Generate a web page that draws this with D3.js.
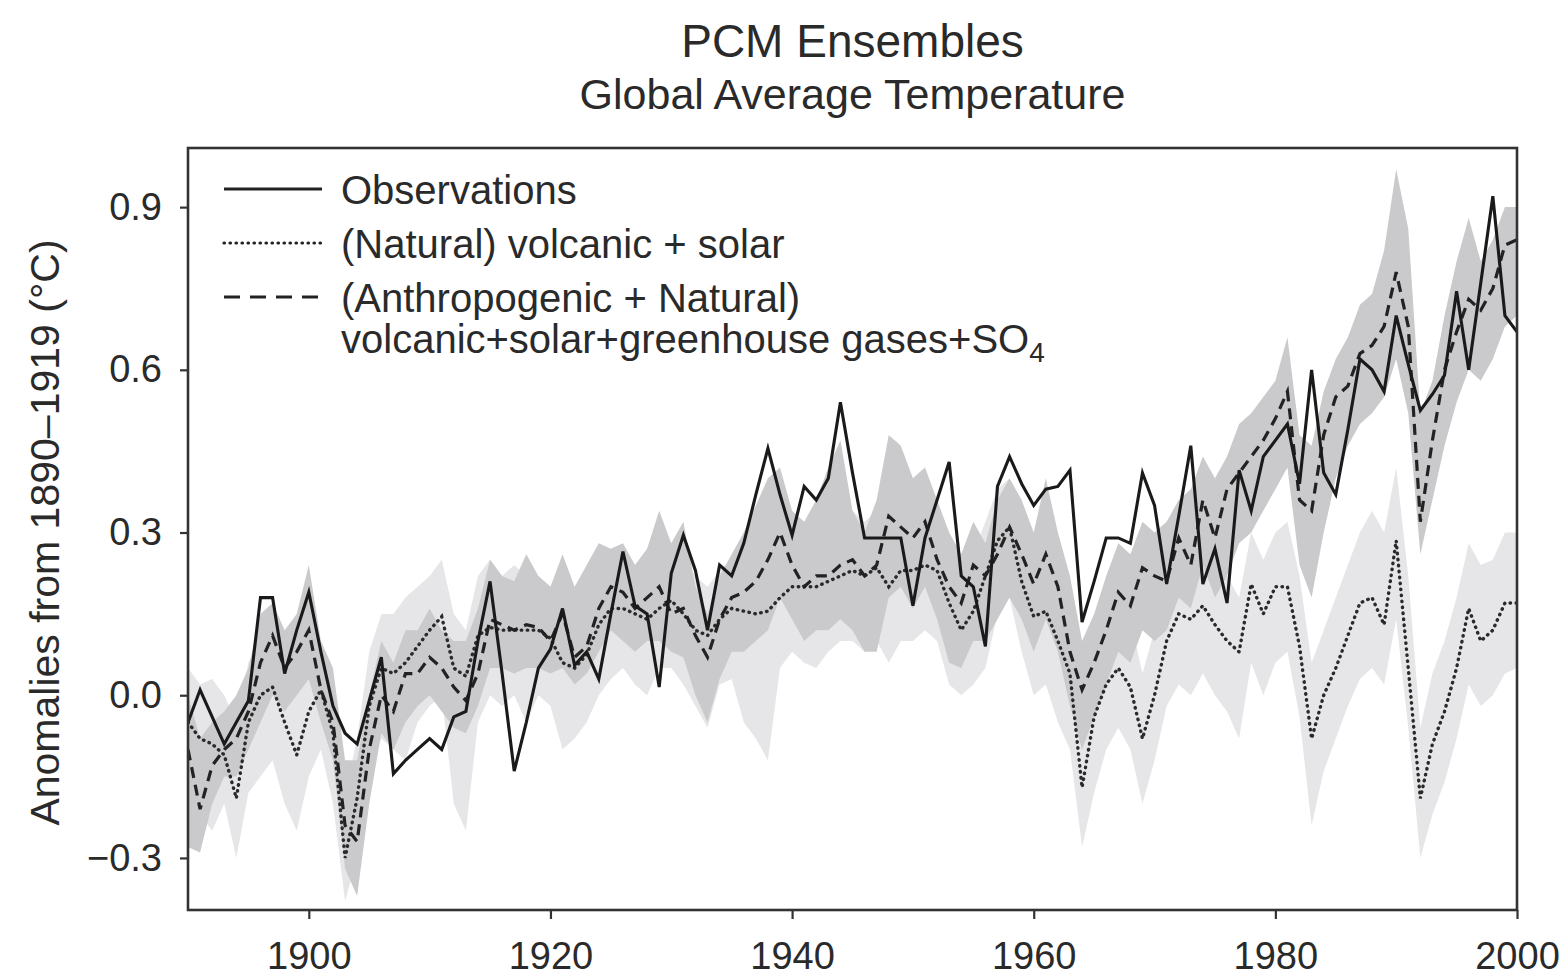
<!DOCTYPE html>
<html>
<head>
<meta charset="utf-8">
<title>PCM Ensembles</title>
<script src="https://cdn.jsdelivr.net/npm/d3@7"></script>
<style>
body { margin: 0; background: #fff; }
text { font-family: "Liberation Sans", Arial, sans-serif; fill: #2a2a2a; }
.axis line { stroke: #333; stroke-width: 2.2; }
.axis path { display: none; }
.axis text { font-size: 38px; }
</style>
</head>
<body>
<svg id="chart" width="1562" height="979"></svg>
<script>

// yearly values, 1890 to 2000
var firstYear = 1890;

var observations = [
  -0.05, 0.01, -0.04, -0.09, -0.05, -0.01, 0.18, 0.18, 0.04, 0.12,
  0.19, 0.08, -0.02, -0.07, -0.09, -0.01, 0.07, -0.145, -0.12, -0.10,
  -0.08, -0.10, -0.04, -0.03, 0.10, 0.21, 0.04, -0.14, -0.05, 0.05,
  0.085, 0.16, 0.055, 0.08, 0.03, 0.15, 0.265, 0.165, 0.15, 0.015,
  0.225, 0.295, 0.23, 0.12, 0.24, 0.22, 0.28, 0.37, 0.455, 0.37,
  0.295, 0.385, 0.36, 0.40, 0.54, 0.41, 0.29, 0.29, 0.29, 0.29,
  0.165, 0.29, 0.36, 0.43, 0.22, 0.20, 0.09, 0.385, 0.44, 0.39,
  0.35, 0.38, 0.385, 0.415, 0.135, 0.21, 0.29, 0.29, 0.28, 0.41,
  0.35, 0.205, 0.33, 0.46, 0.205, 0.27, 0.17, 0.415, 0.34, 0.44,
  0.47, 0.50, 0.39, 0.60, 0.41, 0.37, 0.49, 0.62, 0.60, 0.56,
  0.70, 0.61, 0.525, 0.555, 0.59, 0.745, 0.60, 0.76, 0.92, 0.70,
  0.67
];

// (Natural) volcanic + solar, ensemble mean and range
var natural = [
  -0.05, -0.08, -0.09, -0.11, -0.19, -0.05, 0.00, 0.015, -0.05, -0.11,
  -0.03, 0.01, -0.07, -0.30, -0.19, -0.02, 0.05, 0.04, 0.06, 0.09,
  0.12, 0.145, 0.05, 0.035, 0.11, 0.125, 0.12, 0.12, 0.12, 0.12,
  0.105, 0.06, 0.05, 0.075, 0.13, 0.16, 0.16, 0.15, 0.14, 0.16,
  0.175, 0.15, 0.12, 0.11, 0.14, 0.16, 0.155, 0.15, 0.155, 0.18,
  0.20, 0.20, 0.20, 0.21, 0.22, 0.23, 0.22, 0.235, 0.20, 0.23,
  0.23, 0.24, 0.23, 0.17, 0.12, 0.155, 0.22, 0.285, 0.31, 0.21,
  0.145, 0.155, 0.10, 0.04, -0.17, -0.04, 0.02, 0.05, 0.015, -0.08,
  0.00, 0.10, 0.15, 0.14, 0.165, 0.13, 0.10, 0.08, 0.205, 0.15,
  0.20, 0.20, 0.09, -0.08, 0.00, 0.05, 0.11, 0.17, 0.18, 0.13,
  0.285, 0.05, -0.19, -0.09, -0.03, 0.05, 0.16, 0.10, 0.12, 0.17,
  0.17
];
var naturalLow = [
  -0.20, -0.22, -0.25, -0.20, -0.30, -0.18, -0.15, -0.12, -0.20, -0.25,
  -0.15, -0.10, -0.20, -0.38, -0.30, -0.15, -0.08, -0.10, -0.12, -0.05,
  -0.02, 0.00, -0.20, -0.25, -0.05, 0.00, -0.02, 0.00, -0.05, 0.00,
  -0.02, -0.10, -0.08, -0.05, 0.00, 0.03, 0.05, 0.02, 0.00, 0.05,
  0.05, 0.02, -0.02, -0.06, 0.02, 0.03, -0.05, -0.08, -0.12, 0.05,
  0.08, 0.06, 0.05, 0.08, 0.10, 0.10, 0.08, 0.10, 0.06, 0.10,
  0.10, 0.12, 0.10, 0.02, 0.00, 0.02, 0.05, 0.15, 0.18, 0.08,
  0.00, 0.02, -0.05, -0.10, -0.28, -0.18, -0.10, -0.06, -0.10, -0.20,
  -0.12, -0.02, 0.02, 0.00, 0.04, 0.00, -0.03, -0.08, 0.06, 0.00,
  0.06, 0.08, -0.04, -0.24, -0.14, -0.08, -0.02, 0.03, 0.05, 0.02,
  0.14, -0.06, -0.30, -0.22, -0.16, -0.08, 0.02, -0.02, 0.00, 0.04,
  0.05
];
var naturalHigh = [
  0.05, 0.02, 0.03, 0.00, -0.05, 0.06, 0.10, 0.12, 0.05, 0.02,
  0.08, 0.10, 0.03, -0.18, -0.08, 0.08, 0.15, 0.15, 0.18, 0.20,
  0.22, 0.25, 0.15, 0.12, 0.22, 0.25, 0.22, 0.24, 0.22, 0.22,
  0.20, 0.15, 0.16, 0.18, 0.22, 0.26, 0.25, 0.24, 0.25, 0.26,
  0.28, 0.25, 0.22, 0.20, 0.23, 0.25, 0.24, 0.23, 0.25, 0.28,
  0.30, 0.30, 0.30, 0.32, 0.33, 0.34, 0.32, 0.34, 0.30, 0.34,
  0.33, 0.35, 0.35, 0.30, 0.24, 0.26, 0.32, 0.38, 0.40, 0.32,
  0.26, 0.27, 0.22, 0.16, -0.06, 0.06, 0.12, 0.16, 0.14, 0.04,
  0.12, 0.22, 0.26, 0.24, 0.28, 0.25, 0.22, 0.18, 0.30, 0.25,
  0.30, 0.32, 0.22, 0.06, 0.12, 0.18, 0.24, 0.30, 0.34, 0.30,
  0.42, 0.22, -0.06, 0.04, 0.10, 0.18, 0.28, 0.24, 0.25, 0.30,
  0.30
];

// (Anthropogenic + Natural), ensemble mean and range
var combined = [
  -0.10, -0.21, -0.13, -0.10, -0.08, -0.03, 0.06, 0.11, 0.05, 0.08,
  0.12, 0.01, -0.05, -0.24, -0.27, -0.10, 0.00, -0.03, 0.04, 0.04,
  0.07, 0.05, 0.015, -0.01, 0.04, 0.14, 0.13, 0.12, 0.13, 0.125,
  0.10, 0.15, 0.07, 0.09, 0.16, 0.20, 0.19, 0.16, 0.18, 0.20,
  0.15, 0.16, 0.11, 0.07, 0.14, 0.18, 0.19, 0.21, 0.25, 0.30,
  0.24, 0.20, 0.22, 0.22, 0.24, 0.25, 0.22, 0.24, 0.33, 0.31,
  0.29, 0.32, 0.25, 0.20, 0.17, 0.24, 0.22, 0.26, 0.31, 0.26,
  0.205, 0.26, 0.20, 0.08, 0.01, 0.06, 0.12, 0.19, 0.165, 0.235,
  0.22, 0.21, 0.29, 0.24, 0.36, 0.29, 0.38, 0.41, 0.44, 0.47,
  0.51, 0.56, 0.36, 0.34, 0.48, 0.55, 0.57, 0.63, 0.645, 0.68,
  0.78, 0.68, 0.32, 0.47, 0.60, 0.67, 0.73, 0.71, 0.75, 0.83,
  0.84
];
var combinedLow = [
  -0.28, -0.29, -0.20, -0.15, -0.15, -0.10, -0.05, 0.00, -0.03, 0.00,
  0.03, -0.05, -0.12, -0.32, -0.37, -0.20, -0.07, -0.10, -0.05, -0.02,
  0.00, -0.03, -0.06, -0.07, -0.02, 0.05, 0.05, 0.04, 0.05, 0.05,
  0.04, 0.05, 0.02, 0.04, 0.08, 0.12, 0.10, 0.08, 0.10, 0.10,
  0.08, 0.07, 0.00, -0.05, 0.03, 0.08, 0.08, 0.10, 0.12, 0.18,
  0.14, 0.10, 0.12, 0.12, 0.14, 0.12, 0.08, 0.08, 0.18, 0.20,
  0.16, 0.20, 0.14, 0.06, 0.05, 0.10, 0.10, 0.14, 0.18, 0.14,
  0.08, 0.14, 0.08, -0.02, -0.10, -0.04, 0.02, 0.08, 0.06, 0.12,
  0.10, 0.12, 0.18, 0.16, 0.24, 0.18, 0.22, 0.28, 0.30, 0.34,
  0.38, 0.42, 0.24, 0.18, 0.30, 0.40, 0.46, 0.50, 0.52, 0.55,
  0.62, 0.52, 0.26, 0.36, 0.46, 0.54, 0.60, 0.58, 0.62, 0.68,
  0.70
];
var combinedHigh = [
  0.00, -0.08, -0.05, -0.03, 0.00, 0.05, 0.15, 0.17, 0.12, 0.15,
  0.24, 0.10, 0.05, -0.12, -0.12, 0.00, 0.10, 0.06, 0.12, 0.12,
  0.16, 0.12, 0.10, 0.10, 0.16, 0.25, 0.22, 0.21, 0.26, 0.22,
  0.20, 0.26, 0.20, 0.24, 0.28, 0.27, 0.28, 0.24, 0.27, 0.34,
  0.28, 0.32, 0.20, 0.15, 0.22, 0.26, 0.30, 0.35, 0.40, 0.42,
  0.34, 0.32, 0.36, 0.42, 0.47, 0.34, 0.30, 0.36, 0.48, 0.46,
  0.40, 0.42, 0.36, 0.30, 0.26, 0.32, 0.28, 0.36, 0.40, 0.36,
  0.30, 0.40, 0.30, 0.22, 0.10, 0.15, 0.22, 0.28, 0.26, 0.32,
  0.30, 0.32, 0.36, 0.38, 0.44, 0.40, 0.44, 0.50, 0.52, 0.55,
  0.58, 0.66, 0.48, 0.46, 0.56, 0.62, 0.66, 0.72, 0.74, 0.82,
  0.97, 0.86, 0.52, 0.58, 0.70, 0.80, 0.88, 0.80, 0.84, 0.90,
  0.90
];

var xTicks = [1900, 1920, 1940, 1960, 1980, 2000];
var yTicks = [-0.3, 0.0, 0.3, 0.6, 0.9];

var legendLabels = ["Observations", "(Natural) volcanic + solar", "(Anthropogenic + Natural)"];

var margin = {top: 148, right: 45, bottom: 69, left: 188},
    width = 1562 - margin.left - margin.right,
    height = 979 - margin.top - margin.bottom;

var svg = d3.select("#chart");
var g = svg.append("g")
    .attr("transform", "translate(" + margin.left + "," + margin.top + ")");

var x = d3.scaleLinear().domain([1890, 2000]).range([0, width]);
var y = d3.scaleLinear().domain([-0.396, 1.009]).range([height, 0]);

var yearOf = function(d, i) { return firstYear + i; };

function band(lo, hi) {
  return d3.area()
    .x(function(d, i) { return x(yearOf(d, i)); })
    .y0(function(d, i) { return y(lo[i]); })
    .y1(function(d, i) { return y(hi[i]); });
}
var line = d3.line()
    .x(function(d, i) { return x(yearOf(d, i)); })
    .y(function(d) { return y(d); });

g.append("clipPath").attr("id", "plot")
  .append("rect").attr("width", width).attr("height", height);

var plot = g.append("g").attr("clip-path", "url(#plot)");

// shaded ranges
plot.append("path").datum(natural)
    .attr("d", band(naturalLow, naturalHigh))
    .attr("fill", "#e6e6e8");
plot.append("path").datum(combined)
    .attr("d", band(combinedLow, combinedHigh))
    .attr("fill", "#cacacd");

// the three curves
plot.append("path").datum(natural)
    .attr("d", line)
    .attr("fill", "none")
    .attr("stroke", "#2a2a2a")
    .attr("stroke-width", 3.4)
    .attr("stroke-linecap", "round")
    .attr("stroke-dasharray", "0.5 5.5");
plot.append("path").datum(combined)
    .attr("d", line)
    .attr("fill", "none")
    .attr("stroke", "#222")
    .attr("stroke-width", 3.2)
    .attr("stroke-dasharray", "11 7");
plot.append("path").datum(observations)
    .attr("d", line)
    .attr("fill", "none")
    .attr("stroke", "#1a1a1a")
    .attr("stroke-width", 3.1);

// axes
g.append("g")
    .attr("class", "axis")
    .call(d3.axisLeft(y).tickValues(yTicks).tickSize(8).tickPadding(18)
      .tickFormat(d3.format(".1f")));

g.append("g")
    .attr("class", "axis")
    .attr("transform", "translate(0," + height + ")")
    .call(d3.axisBottom(x).tickValues(xTicks).tickSize(9).tickPadding(23)
      .tickFormat(d3.format("d")));

// frame
g.append("rect")
    .attr("width", width)
    .attr("height", height)
    .attr("fill", "none")
    .attr("stroke", "#333")
    .attr("stroke-width", 2.6);

// legend
var legend = svg.append("g");
var legendY = [189, 243, 297];
var legendDash = [null, "0.5 5.5", "16 10"];

legendLabels.forEach(function(label, i) {
  legend.append("line")
      .attr("x1", 224).attr("x2", 322)
      .attr("y1", legendY[i]).attr("y2", legendY[i])
      .attr("stroke", "#222")
      .attr("stroke-width", i == 1 ? 3.2 : 3)
      .attr("stroke-linecap", i == 1 ? "round" : "butt")
      .attr("stroke-dasharray", legendDash[i]);
  legend.append("text")
      .attr("x", 341)
      .attr("y", legendY[i] + 15)
      .style("font-size", "40px")
      .text(label);
});

var last = legend.append("text")
    .attr("x", 341)
    .attr("y", 353)
    .style("font-size", "40px")
    .text("volcanic+solar+greenhouse gases+SO");
last.append("tspan")
    .attr("dy", 9)
    .style("font-size", "28px")
    .text("4");

// titles
svg.append("text")
    .attr("x", margin.left + width / 2)
    .attr("y", 57)
    .attr("text-anchor", "middle")
    .style("font-size", "46px")
    .text("PCM Ensembles");

svg.append("text")
    .attr("x", margin.left + width / 2)
    .attr("y", 109)
    .attr("text-anchor", "middle")
    .style("font-size", "43px")
    .text("Global Average Temperature");

svg.append("text")
    .attr("transform", "translate(59," + (margin.top + y(0.3)) + ") rotate(-90)")
    .attr("text-anchor", "middle")
    .style("font-size", "41px")
    .text("Anomalies from 1890\u20131919 (\u00b0C)");

</script>
</body>
</html>
